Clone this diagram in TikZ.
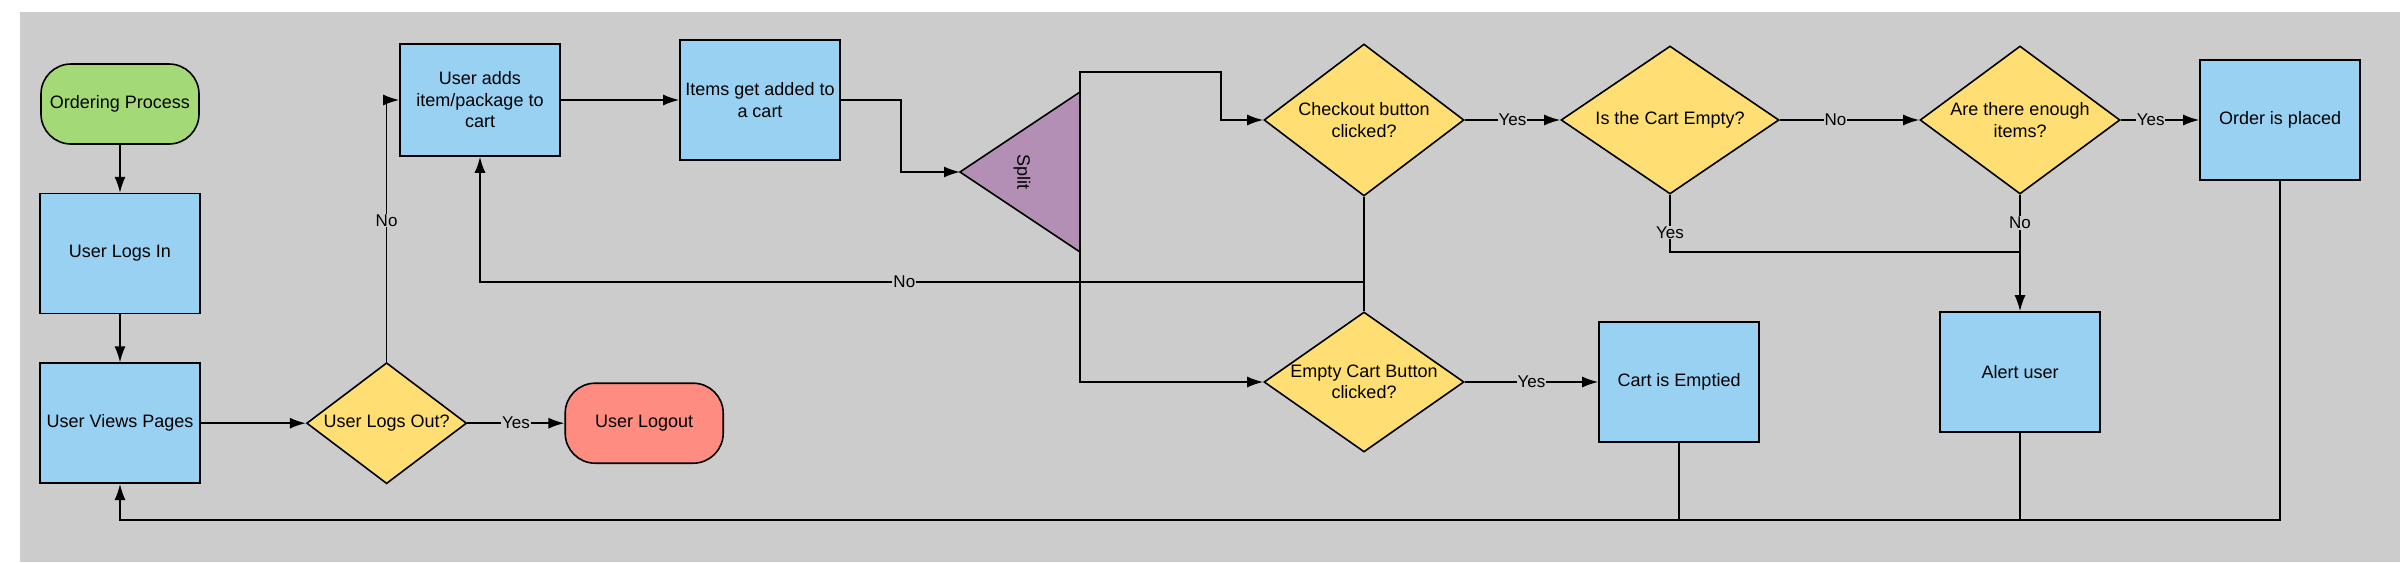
\documentclass[tikz,border=0pt]{standalone}
\usepackage{fontspec}
\setmainfont{Liberation Sans}
\usepackage{tikz}
\usetikzlibrary{positioning}
\usetikzlibrary{calc}
\usetikzlibrary{shapes.geometric}
\usetikzlibrary{arrows.meta}

\definecolor{bggray}{HTML}{CCCCCC}
\definecolor{boxblue}{HTML}{99D1F3}
\definecolor{decyellow}{HTML}{FFDF73}
\definecolor{startgreen}{HTML}{A3D977}
\definecolor{endred}{HTML}{FF8C80}
\definecolor{splitpurple}{HTML}{B38FB5}

\begin{document}
\begin{tikzpicture}[x=1pt, y=-1pt, line width=1.6pt,
    every node/.style={font=\fontsize{18}{21.5}\selectfont},
    procbox/.style={draw, fill=boxblue, minimum width=160pt, minimum height=120pt, inner sep=0pt, align=center},
    startstop/.style={draw, rounded corners=30pt, minimum width=158pt, minimum height=80pt, inner sep=0pt},
    decision/.style={draw, diamond, aspect=1.4, fill=decyellow, inner sep=0pt, align=center},
    flow/.style={-{Latex[length=16pt, width=11pt]}},
    lbl/.style={fill=bggray, inner sep=1pt, font=\fontsize{17}{20}\selectfont}]
    \useasboundingbox (0,0) rectangle (2400,562);
    \fill[bggray] (20,12) rectangle (2400,562);

    % left column
    \node[startstop, fill=startgreen] (order) at (120,104) {Ordering Process};
    \node[procbox, below=48pt of order] (login) {User Logs In};
    \node[procbox, below=48pt of login] (views) {User Views Pages};
    \node[decision, minimum width=160pt, minimum height=121pt, right=105pt of views] (logsout) {User Logs Out?};
    \node[startstop, fill=endred, right=97pt of logsout] (logout) {User Logout};

    % cart
    \node[procbox, minimum height=112pt] (adds) at (480,100) {User adds\\item/package to\\cart};
    \node[procbox] (items) at (760,100) {Items get added to\\a cart};

    % split
    \coordinate (splittip) at (960,172);
    \coordinate (splittop) at (1080,92);
    \coordinate (splitbot) at (1080,252);
    \filldraw[fill=splitpurple] (splittip) -- (splittop) -- (splitbot) -- cycle;
    \node[rotate=-90] (split) at (1022,172) {Split};

    % decisions
    \node[decision, minimum width=200pt, minimum height=152pt] (checkout) at (1364,120) {Checkout button\\clicked?};
    \node[decision, minimum width=200pt, minimum height=140pt, aspect=1.45] (emptybtn) at (1364,382) {Empty Cart Button\\clicked?};
    \node[decision, minimum width=218pt, minimum height=148pt] (isempty) at (1670,120) {Is the Cart Empty?};
    \node[decision, minimum width=200pt, minimum height=148pt] (enough) at (2020,120) {Are there enough\\items?};
    \node[procbox] (placed) at (2280,120) {Order is placed};
    \node[procbox] (emptied) at (1679,382) {Cart is Emptied};
    \node[procbox] (alert) at (2020,372) {Alert user};

    \draw[flow] (order) -- (login);
    \draw[flow] (login) -- (views);
    \draw[flow] (views) -- (logsout);
    \draw[flow] (logsout) -- node[lbl] {Yes} (logout);
    \draw[flow] (logsout.north) |- node[lbl, pos=0.27] {No} (adds.west);
    \draw[flow] (adds) -- (items);
    \draw[flow] (items.east) -- ++(60,0) |- (splittip);
    \draw[flow] (splittop) -- ++(0,-20) -| ($(checkout.west)+(-42,0)$) -- (checkout.west);
    \draw[flow] (splitbot) |- (emptybtn.west);

    % no: back to adding items
    \coordinate (nojoin) at (checkout.south |- 0,282);
    \draw (emptybtn.north) -- (nojoin);
    \draw[flow] (checkout.south) -- (nojoin) -| node[lbl, pos=0.26] {No} (adds.south);

    \draw[flow] (checkout) -- node[lbl] {Yes} (isempty);
    \draw[flow] (emptybtn) -- node[lbl] {Yes} (emptied);
    \draw[flow] (isempty) -- node[lbl, pos=0.4] {No} (enough);
    \draw[flow] (enough) -- node[lbl, pos=0.38] {Yes} (placed);
    \coordinate (alertjoin) at (enough.south |- 0,252);
    \draw (isempty.south) |- node[lbl, pos=0.33] {Yes} (alertjoin);
    \draw[flow] (enough.south) -- node[lbl, pos=0.24] {No} (alert.north);

    % return to the pages
    \coordinate (back) at (placed.south |- 0,520);
    \draw (emptied.south) -- (emptied.south |- back);
    \draw (alert.south) -- (alert.south |- back);
    \draw[flow] (placed.south) -- (back) -| (views.south);
\end{tikzpicture}
\end{document}
